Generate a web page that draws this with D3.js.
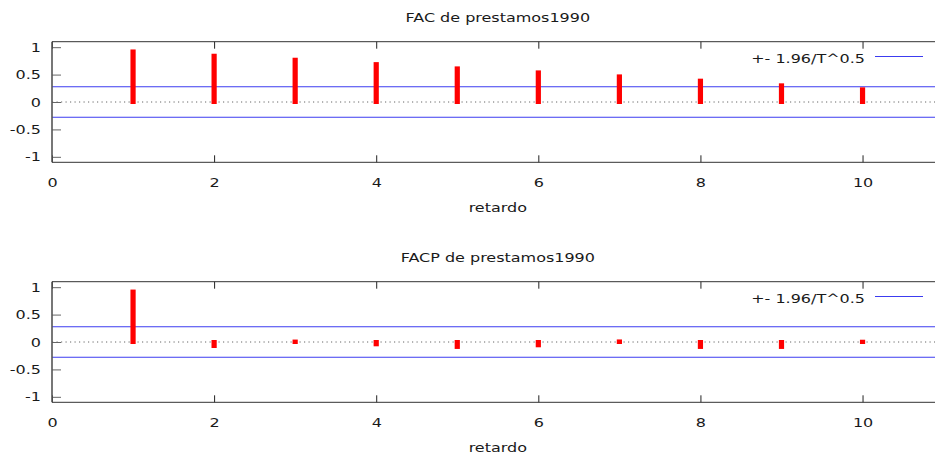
<!DOCTYPE html>
<html>
<head>
<meta charset="utf-8">
<script src="https://cdn.jsdelivr.net/npm/d3@7"></script>
<style>
  html, body { margin: 0; padding: 0; background: #fff; }
  svg { display: block; }
  text { font-family: "DejaVu Sans", Verdana, sans-serif; font-size: 13px; fill: #1a1a1a; }
</style>
</head>
<body>
<svg id="chart" width="935" height="455"></svg>
<script>
// ---- data ----
const lags = [1, 2, 3, 4, 5, 6, 7, 8, 9, 10];
const facValues  = [0.922, 0.844, 0.771, 0.691, 0.613, 0.540, 0.467, 0.389, 0.304, 0.231];
const facpValues = [0.920, -0.073, 0.008, -0.042, -0.090, -0.060, 0.010, -0.090, -0.090, 0.005];
const band = 0.277;               // 1.96 / sqrt(T)
const xTicks = [0, 2, 4, 6, 8, 10];
const yTicks = [-1, -0.5, 0, 0.5, 1];
const titles = ["FAC de prestamos1990", "FACP de prestamos1990"];
const xLabel = "retardo";
const legendLabel = "+- 1.96/T^0.5";

// ---- layout ----
const svg = d3.select("#chart");
const SX = 1.23;                  // horizontal text stretch of the reference
const plotTop = 41.7, plotBottom = 162.3, plotLeft = 52, plotRight = 943.6;
const panelOffsets = [0, 240];
const panels = [
  { title: titles[0], values: facValues },
  { title: titles[1], values: facpValues }
];

const x = d3.scaleLinear().domain([0, 11]).range([plotLeft, plotRight]);
const y = d3.scaleLinear().domain([-1.1, 1.1]).range([plotBottom, plotTop]);

function stretchText(sel, tx, ty) {
  sel.attr("transform", `translate(${tx},${ty}) scale(${SX},1)`);
}

panels.forEach((p, i) => {
  const g = svg.append("g").attr("transform", `translate(0,${panelOffsets[i]})`);

  // title
  g.append("text").text(p.title).attr("text-anchor", "middle")
    .call(stretchText, (plotLeft + plotRight) / 2, 22);

  // confidence band lines
  g.selectAll("line.band").data([band, -band]).enter().append("line")
    .attr("class", "band")
    .attr("x1", x(0)).attr("x2", x(11))
    .attr("y1", d => y(d)).attr("y2", d => y(d))
    .attr("stroke", "#3c3cf0").attr("stroke-width", 1.1);

  // zero line (dotted)
  g.append("line")
    .attr("x1", x(0)).attr("x2", x(11))
    .attr("y1", y(0)).attr("y2", y(0))
    .attr("stroke", "#666").attr("stroke-width", 1)
    .attr("stroke-dasharray", "1.2,3.3");

  // impulses
  const ext = 2;
  g.selectAll("rect.bar").data(lags.map((l, k) => ({ lag: l, v: p.values[k] })))
    .enter().append("rect").attr("class", "bar")
    .attr("x", d => x(d.lag) - 2.6)
    .attr("width", 5.2)
    .attr("y", d => Math.min(y(d.v), y(0)) - ext)
    .attr("height", d => Math.abs(y(d.v) - y(0)) + 2 * ext)
    .attr("fill", "#ff0000");

  // axes (inward ticks)
  const ax = g.append("g").attr("transform", `translate(${plotLeft},0)`)
    .call(d3.axisLeft(y).tickValues(yTicks).tickSize(-9).tickSizeOuter(0)
      .tickPadding(9).tickFormat(d => String(d)));
  ax.select(".domain").remove();
  ax.selectAll(".tick line").attr("stroke", "#666");
  ax.selectAll(".tick text").attr("transform", `scale(${SX},1)`);

  const bx = g.append("g").attr("transform", `translate(0,${plotBottom})`)
    .call(d3.axisBottom(x).tickValues(xTicks).tickSize(-7).tickSizeOuter(0)
      .tickPadding(15.5).tickFormat(d => String(d)));
  bx.select(".domain").remove();
  bx.selectAll(".tick line").attr("stroke", "#222");
  bx.selectAll(".tick text").attr("transform", `scale(${SX},1)`);

  const tx = g.append("g").attr("transform", `translate(0,${plotTop})`)
    .call(d3.axisTop(x).tickValues(xTicks).tickSize(-7).tickSizeOuter(0).tickFormat(""));
  tx.select(".domain").remove();
  tx.selectAll(".tick line").attr("stroke", "#222");

  svg.selectAll("g[font-family]").attr("font-family", null).attr("font-size", null);

  // border
  g.append("line").attr("x1", plotLeft).attr("x2", plotRight)
    .attr("y1", plotTop).attr("y2", plotTop).attr("stroke", "#333").attr("stroke-width", 1);
  g.append("line").attr("x1", plotLeft).attr("x2", plotRight)
    .attr("y1", plotBottom).attr("y2", plotBottom).attr("stroke", "#333").attr("stroke-width", 1);
  g.append("line").attr("x1", plotLeft).attr("x2", plotLeft)
    .attr("y1", plotTop).attr("y2", plotBottom).attr("stroke", "#555").attr("stroke-width", 1.6);
  g.append("line").attr("x1", plotRight).attr("x2", plotRight)
    .attr("y1", plotTop).attr("y2", plotBottom).attr("stroke", "#333").attr("stroke-width", 1);

  // legend
  g.append("text").text(legendLabel).attr("text-anchor", "end")
    .call(stretchText, 865, 62.5);
  g.append("line").attr("x1", 875).attr("x2", 923)
    .attr("y1", 56.5).attr("y2", 56.5)
    .attr("stroke", "#3c3cf0").attr("stroke-width", 1.1);

  // x label
  g.append("text").text(xLabel).attr("text-anchor", "middle")
    .call(stretchText, (plotLeft + plotRight) / 2, 212);
});
</script>
</body>
</html>
